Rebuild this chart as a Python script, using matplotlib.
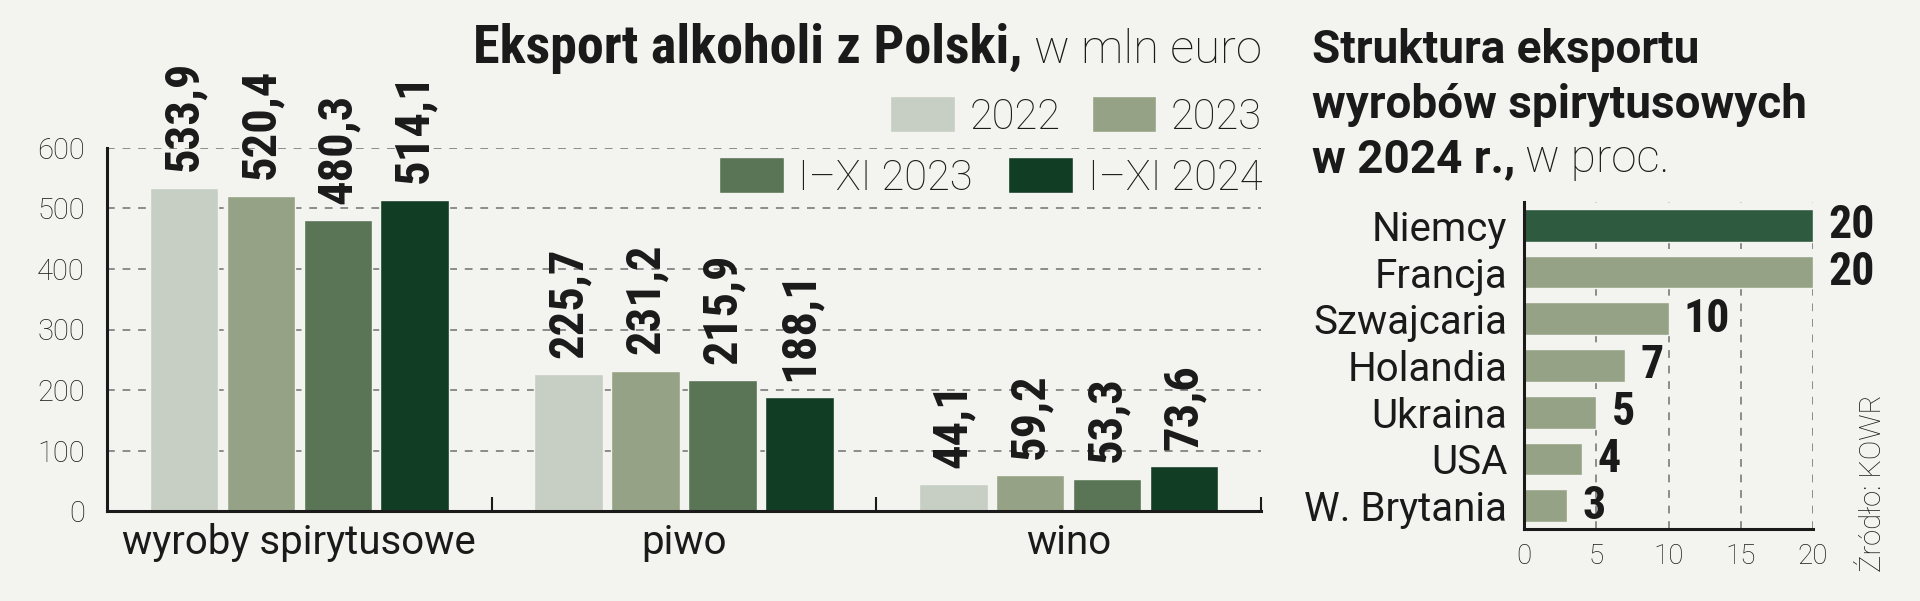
import matplotlib
matplotlib.use("Agg")
import matplotlib.pyplot as plt
import numpy as np

# left chart: export of alcohol, mln EUR
categories = ["wyroby spirytusowe", "piwo", "wino"]
series_names = ["2022", "2023", "I–XI 2023", "I–XI 2024"]
val_2022 = [533.9, 225.7, 44.1]
val_2023 = [520.4, 231.2, 59.2]
val_xi_2023 = [480.3, 215.9, 53.3]
val_xi_2024 = [514.1, 188.1, 73.6]
y_ticks = [0, 100, 200, 300, 400, 500, 600]

# right chart: spirits export structure 2024, %
countries = ["Niemcy", "Francja", "Szwajcaria", "Holandia", "Ukraina", "USA", "W. Brytania"]
shares = [20, 20, 10, 7, 5, 4, 3]
share_ticks = [0, 5, 10, 15, 20]

BG = "#f3f4ef"
INK = "#1a1a1a"
GRID = "#8c8c8c"
colors = ["#c7cec3", "#96a285", "#5a7456", "#123d25"]
share_colors = ["#2e5a40"] + ["#96a285"] * 6

NARROW = ["Liberation Sans Narrow", "Roboto Condensed", "DejaVu Sans"]
SANS = ["Roboto", "DejaVu Sans"]

W, H = 1920, 601
fig = plt.figure(figsize=(W / 100, H / 100), dpi=100, facecolor=BG)


def fx(px):
    return px / W


def fy(py):
    return 1 - py / H


# ---- left chart ----
ax = fig.add_axes([fx(107), fy(511), fx(1261) - fx(107), fy(148) - fy(511)])
ax.set_facecolor(BG)

groups = np.arange(len(categories)) + 0.5
width, step = 0.178, 0.2
handles = []
for i, (vals, name, c) in enumerate(zip([val_2022, val_2023, val_xi_2023, val_xi_2024],
                                        series_names, colors)):
    xs = groups + (i - 1.5) * step
    b = ax.bar(xs, vals, width, color=c, edgecolor=BG, linewidth=1, label=name, zorder=2)
    handles.append(b)
    for x, v in zip(xs, vals):
        ax.annotate(f"{v:.1f}".replace(".", ","), (x, v), xytext=(0, 12),
                    textcoords="offset points", rotation=90, ha="center", va="bottom",
                    family=NARROW, weight="bold", size=35, color=INK,
                    annotation_clip=False)

ax.set_xlim(0, 3)
ax.set_ylim(0, 600)
ax.set_yticks(y_ticks)
ax.yaxis.grid(True, linestyle=(0, (4, 4)), color=GRID, linewidth=1.4)
ax.set_axisbelow(True)
ax.tick_params(axis="y", length=0, pad=16, labelsize=21, labelcolor=INK)
for lab in ax.get_yticklabels():
    lab.set_family(SANS)
    lab.set_weight("light")

ax.set_xticks(groups, categories)
ax.set_xticks([1, 2, 3], minor=True)
ax.tick_params(axis="x", which="major", length=0, pad=9, labelsize=29, labelcolor=INK)
ax.tick_params(axis="x", which="minor", direction="in", length=10, width=1.5, color=INK)
for lab in ax.get_xticklabels():
    lab.set_family(SANS)

for s in ["top", "right"]:
    ax.spines[s].set_visible(False)
for s in ["left", "bottom"]:
    ax.spines[s].set_color(INK)
    ax.spines[s].set_linewidth(2.2)

leg_kw = dict(frameon=False, ncol=2, handlelength=1.55, handleheight=0.95,
              handletextpad=0.35, columnspacing=0.75, borderpad=0, borderaxespad=0,
              loc="center right", bbox_transform=fig.transFigure, labelcolor=INK,
              prop={"family": SANS, "weight": "light", "size": 30})
leg1 = ax.legend(handles[:2], series_names[:2], bbox_to_anchor=(fx(1262), fy(117)), **leg_kw)
ax.add_artist(leg1)
ax.legend(handles[2:], series_names[2:], bbox_to_anchor=(fx(1262), fy(178)),
          **{**leg_kw, "columnspacing": 0.85})

renderer = fig.canvas.get_renderer()

# left title: bold part + light part
t = fig.text(fx(1262), fy(63), "w mln euro", ha="right", va="baseline",
             family=SANS, weight="light", size=34, color=INK)
bb = t.get_window_extent(renderer)
fig.text(fx(bb.x0 - 12), fy(63), "Eksport alkoholi z Polski,", ha="right", va="baseline",
         family=NARROW, weight="bold", size=39, color=INK)

# ---- right chart ----
ax2 = fig.add_axes([fx(1524), fy(529), fx(1813) - fx(1524), fy(202) - fy(529)])
ax2.set_facecolor(BG)
ypos = np.arange(len(countries))
ax2.barh(ypos, shares, height=0.7, color=share_colors, edgecolor=BG, linewidth=1, zorder=2)
for y, v in zip(ypos, shares):
    ax2.annotate(str(v), (v, y), xytext=(11, 0), textcoords="offset points",
                 ha="left", va="center", family=NARROW, weight="bold", size=33,
                 color=INK, annotation_clip=False)
ax2.set_xlim(0, 20)
ax2.set_ylim(len(countries) - 0.5, -0.5)
ax2.set_yticks(ypos, countries)
ax2.set_xticks(share_ticks)
ax2.xaxis.grid(True, linestyle=(0, (4, 4)), color=GRID, linewidth=1.4)
ax2.set_axisbelow(True)
ax2.tick_params(axis="y", length=0, pad=12, labelsize=29, labelcolor=INK)
ax2.tick_params(axis="x", length=0, pad=10, labelsize=20, labelcolor=INK)
for lab in ax2.get_yticklabels():
    lab.set_family(SANS)
for lab in ax2.get_xticklabels():
    lab.set_family(SANS)
    lab.set_weight("light")
for s in ["top", "right"]:
    ax2.spines[s].set_visible(False)
for s in ["left", "bottom"]:
    ax2.spines[s].set_color(INK)
    ax2.spines[s].set_linewidth(2.2)

# right title
title_kw = dict(ha="left", va="baseline", family=SANS, weight="bold", size=33, color=INK)
fig.text(fx(1312), fy(63), "Struktura eksportu", **title_kw)
fig.text(fx(1312), fy(118), "wyrobów spirytusowych", **title_kw)
t3 = fig.text(fx(1312), fy(172), "w 2024 r.,", **title_kw)
bb3 = t3.get_window_extent(renderer)
fig.text(fx(bb3.x1 + 10), fy(172), "w proc.", ha="left", va="baseline",
         family=SANS, weight="light", size=33, color=INK)

# source
fig.text(fx(1873), fy(572), "Źródło: KOWR", rotation=90, ha="center", va="bottom",
         family=SANS, weight="light", size=21, color=INK)

fig.savefig("out.png", dpi=100, facecolor=BG)
